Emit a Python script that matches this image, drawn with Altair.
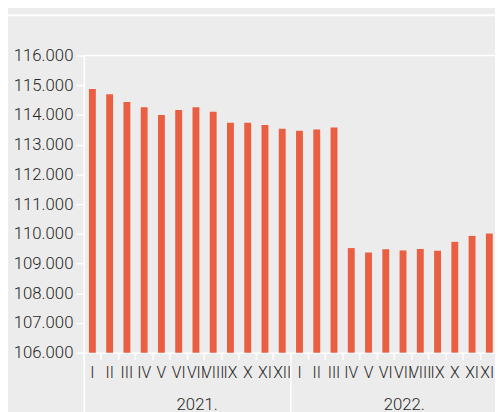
import altair as alt
import pandas as pd

years = ["2021."] * 12 + ["2022."] * 12
months = ["I", "II", "III", "IV", "V", "VI", "VII", "VIII", "IX", "X", "XI", "XII"] * 2
values = [114870, 114700, 114440, 114260, 114000, 114170, 114260, 114110, 113740, 113740, 113660, 113540,
          113470, 113510, 113580, 109520, 109370, 109480, 109440, 109490, 109430, 109730, 109930, 110010]
y_ticks = [106000, 107000, 108000, 109000, 110000, 111000, 112000, 113000, 114000, 115000, 116000]

keys = [f"{y}|{m}" for y, m in zip(years, months)]
df = pd.DataFrame({"key": keys, "year": years, "month": months, "value": values})

BG = "#ececec"
BAR = "#ea5e42"
TXT = "#262626"
FONT = "Roboto"
W, H = 418, 302
XR = [0, 421]

yscale = alt.Scale(domain=[106000, 116000], zero=False, nice=False)
yaxis = alt.Axis(values=y_ticks, labelOverlap=False, tickCount=11,
                 labelExpr="replace(format(datum.value, ','), /,/g, '.')",
                 domainColor="white", domainWidth=1.5,
                 tickColor="white", tickWidth=1.5, tickSize=8,
                 labelFont=FONT, labelFontSize=17, labelFontWeight=300,
                 labelColor=TXT, labelPadding=3, grid=False, title=None)

base = alt.Chart(df)

bars = base.mark_bar(color=BAR, width=7).encode(
    x=alt.X("key:N", sort=keys, title=None,
            scale=alt.Scale(paddingInner=0, paddingOuter=0, range=XR),
            axis=alt.Axis(orient="bottom", labelExpr="split(datum.label, '|')[1]", bandPosition=0,
                          domainColor="white", domainWidth=1.5,
                          tickColor="white", tickWidth=1.5, tickSize=7,
                          labelFont=FONT, labelFontSize=16, labelFontWeight=300,
                          labelColor=TXT, labelPadding=5, labelOverlap=False,
                          labelBound=False, labelFlush=False, labelAngle=0)),
    y=alt.Y("value:Q", scale=yscale, title=None, axis=yaxis),
    y2=alt.datum(106000),
)

years_layer = base.mark_rule(opacity=0).encode(
    x=alt.X("year:N", title=None,
            scale=alt.Scale(paddingInner=0, paddingOuter=0, range=XR),
            axis=alt.Axis(orient="bottom", bandPosition=0, domain=False, offset=0,
                          tickColor="white", tickWidth=1.5, tickSize=62,
                          labelFont=FONT, labelFontSize=17, labelFontWeight=300,
                          labelColor=TXT, labelPadding=-17, labelOffset=10,
                          labelAngle=0, labelFlush=False)),
)

top_border = alt.Chart(pd.DataFrame({"v": [116000]})).mark_rule(
    color="white", strokeWidth=1.5).encode(
    y=alt.Y("v:Q", scale=yscale, title=None, axis=yaxis))

top_line = alt.Chart(pd.DataFrame({"v": [0]})).mark_rule(
    color="white", strokeWidth=2).encode(
    x=alt.value(-77), x2=alt.value(W), y=alt.value(-41))

chart = alt.layer(bars, years_layer, top_border, top_line).resolve_scale(
    x="independent"
).properties(
    width=W, height=H, background=BG,
    autosize=alt.AutoSizeParams(type="none"),
    padding={"left": 77, "top": 45, "right": 0, "bottom": 57},
).configure_view(stroke=None)

chart.save("out.html", embed_options={"renderer": "svg", "actions": False})
